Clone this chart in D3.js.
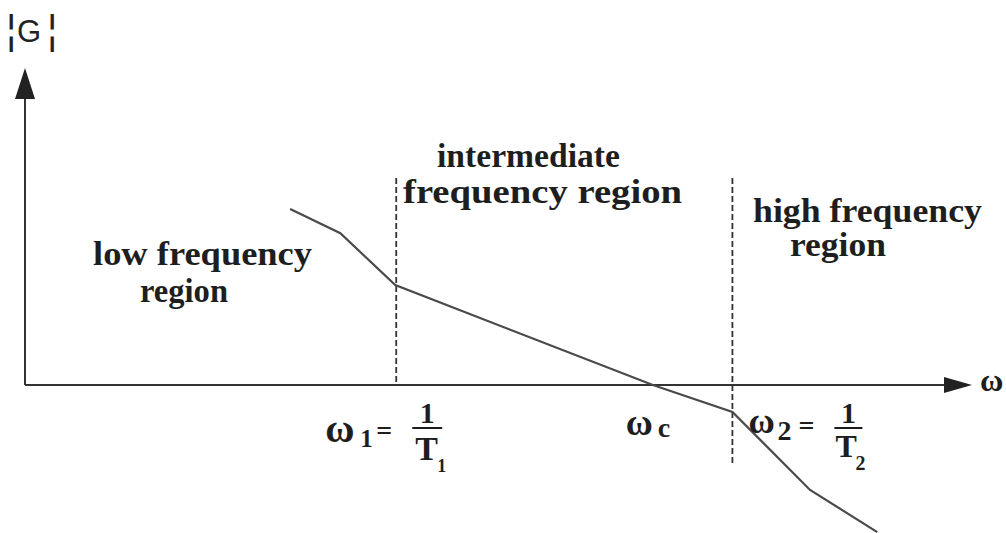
<!DOCTYPE html>
<html>
<head>
<meta charset="utf-8">
<script src="https://cdn.jsdelivr.net/npm/d3@7/dist/d3.min.js"></script>
<style>
html, body { margin: 0; padding: 0; background: #fff; }
svg { display: block; }
</style>
</head>
<body>
<svg id="chart" width="1006" height="533"></svg>
<script>
// ---- data (abstract units: omega axis 0..100, gain axis 0..100) ----
const curveOmega = [28.0, 33.3, 39.1, 66.3, 74.7, 82.9, 90.0];
const curveGain  = [55.5, 47.9, 31.5, 0.0, -8.5, -33.1, -46.4];
const breakOmega = [39.2, 74.7];          // omega1 = 1/T1, omega2 = 1/T2
const breakSubs  = ["1", "2"];
const breakTop   = [65.3, 65.3];
const breakBottom = [0, -25.0];
const crossOmega = 66.3;                  // omega_c
const regionLines = [
  ["low frequency", "region"],
  ["intermediate", "frequency region"],
  ["high frequency", "region"]
];
const yAxisLabel = ["¦", "G", "¦"];
const xAxisLabel = "ω";

const svg = d3.select("#chart");
const x = d3.scaleLinear().domain([0, 100]).range([25, 972]);
const y = d3.scaleLinear().domain([0, 100]).range([385, 68]);

const ink = "#1e1e1e";
const serif = "'Liberation Serif', 'Times New Roman', serif";
const sans = "'Liberation Sans', Arial, sans-serif";

// axes
svg.append("line").attr("x1", x(0)).attr("x2", x(100) - 20).attr("y1", y(0)).attr("y2", y(0))
  .attr("stroke", "#333").attr("stroke-width", 2);
svg.append("line").attr("x1", x(0)).attr("x2", x(0)).attr("y1", y(0)).attr("y2", y(100) + 22)
  .attr("stroke", "#333").attr("stroke-width", 2);
// arrowheads
svg.append("path")
  .attr("d", `M${x(100)},${y(0)} L${x(100) - 28},${y(0) - 8} L${x(100) - 28},${y(0) + 8} Z`)
  .attr("fill", "#222");
svg.append("path")
  .attr("d", `M${x(0)},${y(100)} L${x(0) - 10},${y(100) + 31} L${x(0) + 10},${y(100) + 31} Z`)
  .attr("fill", "#222");

// dashed break lines
breakOmega.forEach((w, i) => {
  svg.append("line")
    .attr("x1", x(w)).attr("x2", x(w))
    .attr("y1", y(breakTop[i])).attr("y2", y(breakBottom[i]))
    .attr("stroke", "#333").attr("stroke-width", 1.8)
    .attr("stroke-dasharray", "6,3");
});

// magnitude curve
const pts = curveOmega.map((w, i) => [w, curveGain[i]]);
svg.append("path")
  .datum(pts)
  .attr("d", d3.line().x(d => x(d[0])).y(d => y(d[1])))
  .attr("fill", "none").attr("stroke", "#4a4a4a").attr("stroke-width", 2.2);

function label(px, py, size, txt, opts) {
  opts = opts || {};
  const t = svg.append("text").attr("x", px).attr("y", py)
    .attr("text-anchor", opts.anchor || "start")
    .attr("font-family", opts.family || serif)
    .attr("font-weight", opts.weight || "bold")
    .attr("font-size", size).attr("fill", opts.fill || ink).text(txt);
  if (opts.len) t.attr("textLength", opts.len).attr("lengthAdjust", "spacingAndGlyphs");
  return t;
}
// |G| label
label(6, 44, 40, yAxisLabel[0], { family: sans, weight: "normal", fill: "#222" });
label(17, 42, 31, yAxisLabel[1], { family: sans, weight: "normal", fill: "#222" });
label(47, 44, 40, yAxisLabel[2], { family: sans, weight: "normal", fill: "#222" });

// omega axis label
label(980, 391, 32, xAxisLabel);

// region labels
const regionPos = [
  [{ x: 93, y: 265, len: 219 }, { x: 140, y: 302, len: 88 }],
  [{ x: 437, y: 167, len: 183 }, { x: 403, y: 203, len: 279 }],
  [{ x: 753, y: 222, len: 229 }, { x: 790, y: 256, len: 96 }]
];
regionLines.forEach((lines, i) => {
  lines.forEach((t, j) => {
    const p = regionPos[i][j];
    label(p.x, p.y, 33, t, { len: p.len });
  });
});

// break frequency labels: omega_i = 1 / T_i
const breakStyle = [
  { w: [-71, 442, 40], s: [-36, 447, 25], eq: [-20, 440, 28], fc: 31, one: [423, 30], bar: 15, T: [-12, 460, 34], ts: [10, 472, 18] },
  { w: [16, 433, 36], s: [45, 440, 28], eq: [66, 435, 28], fc: 116, one: [423, 30], bar: 14, T: [-13, 457, 32], ts: [7, 470, 20] }
];
breakOmega.forEach((w, i) => {
  const bx = x(w), st = breakStyle[i];
  label(bx + st.w[0], st.w[1], st.w[2], "ω");
  label(bx + st.s[0], st.s[1], st.s[2], breakSubs[i]);
  label(bx + st.eq[0], st.eq[1], st.eq[2], "=");
  const cx = bx + st.fc;
  label(cx, st.one[0], st.one[1], "1", { anchor: "middle" });
  svg.append("line").attr("x1", cx - st.bar).attr("x2", cx + st.bar)
    .attr("y1", 428).attr("y2", 428).attr("stroke", ink).attr("stroke-width", 2);
  label(cx + st.T[0], st.T[1], st.T[2], "T");
  label(cx + st.ts[0], st.ts[1], st.ts[2], breakSubs[i]);
});

// omega_c
label(x(crossOmega) - 27, 435, 37, "ω");
label(x(crossOmega) + 5, 437, 28, "c");
</script>
</body>
</html>
